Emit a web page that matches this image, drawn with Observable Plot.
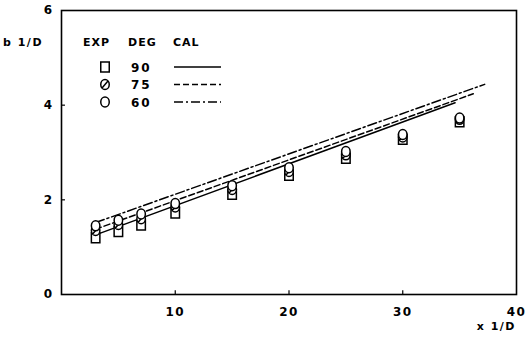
<!DOCTYPE html>
<html>
<head>
<meta charset="utf-8">
<script src="https://cdn.jsdelivr.net/npm/d3@7"></script>
<script src="https://cdn.jsdelivr.net/npm/@observablehq/plot@0.6"></script>
<style>
  html, body { margin: 0; padding: 0; background: #fff; }
  #chart svg { display: block; }
</style>
</head>
<body>
<div id="chart"></div>
<script>
// ---- data ----
const xValues = [3, 5, 7, 10, 15, 20, 25, 30, 35];
const exp90 = [1.20, 1.33, 1.47, 1.72, 2.12, 2.52, 2.88, 3.28, 3.65];
const exp75 = [1.35, 1.48, 1.60, 1.85, 2.22, 2.60, 2.95, 3.33, 3.70];
const exp60 = [1.45, 1.57, 1.70, 1.92, 2.30, 2.68, 3.02, 3.38, 3.73];

const cal90X = [3, 34.6];
const cal90Y = [1.26, 4.05];
const cal75X = [3, 36.2];
const cal75Y = [1.38, 4.24];
const cal60X = [3, 37.2];
const cal60Y = [1.52, 4.44];

const xTicks = [10, 20, 30, 40];
const yTicks = [0, 2, 4, 6];
const degrees = ["90", "75", "60"];
const legendHeader = ["EXP", "DEG", "CAL"];
const xLabel = "x 1/D";
const yLabel = "b 1/D";

// ---- styles ----
const FONT = "DejaVu Sans";
const dashes = { "90": null, "75": "6,3", "60": "9,3,2,3" };

function ellipse(ctx, rx, ry) {
  const k = 0.5523;
  ctx.moveTo(rx, 0);
  ctx.bezierCurveTo(rx, k * ry, k * rx, ry, 0, ry);
  ctx.bezierCurveTo(-k * rx, ry, -rx, k * ry, -rx, 0);
  ctx.bezierCurveTo(-rx, -k * ry, -k * rx, -ry, 0, -ry);
  ctx.bezierCurveTo(k * rx, -ry, rx, -k * ry, rx, 0);
}
const slashedCircle = {
  draw(ctx, size) {
    const r = Math.sqrt(size / Math.PI);
    const rx = r * 0.85, ry = r;
    ellipse(ctx, rx, ry);
    ctx.moveTo(-rx * 0.75, ry * 0.75);
    ctx.lineTo(rx * 0.75, -ry * 0.75);
  }
};
const tallSquare = {
  draw(ctx, size) {
    const r = Math.sqrt(size / Math.PI);
    const w = r * 0.85, h = r;
    ctx.moveTo(-w, -h); ctx.lineTo(w, -h); ctx.lineTo(w, h); ctx.lineTo(-w, h); ctx.closePath();
  }
};
const tallCircle = {
  draw(ctx, size) {
    const r = Math.sqrt(size / Math.PI);
    ellipse(ctx, r * 0.85, r);
  }
};
const symbolFor = { "90": tallSquare, "75": slashedCircle, "60": tallCircle };

// ---- tables ----
const points = [];
[["90", exp90], ["75", exp75], ["60", exp60]].forEach(([deg, ys]) => {
  xValues.forEach((x, i) => points.push({ x, y: ys[i], deg }));
});
const lines = [];
[["90", cal90X, cal90Y], ["75", cal75X, cal75Y], ["60", cal60X, cal60Y]].forEach(([deg, xs, ys]) => {
  xs.forEach((x, i) => lines.push({ x, y: ys[i], deg }));
});

const W = 530, H = 341;
const M = { left: 61, right: 14, top: 10, bottom: 47 };

const lineMarks = degrees.map(deg => Plot.line(lines.filter(d => d.deg === deg), {
  x: "x", y: "y", stroke: "black", strokeWidth: 1.5,
  strokeDasharray: dashes[deg]
}));
const dotMarks = degrees.map(deg => Plot.dot(points.filter(d => d.deg === deg), {
  x: "x", y: "y", r: 5, symbol: () => symbolFor[deg], stroke: "black", strokeWidth: 1.5, fill: "white"
}));

const plot = Plot.plot({
  width: W, height: H,
  marginLeft: M.left, marginRight: M.right, marginTop: M.top, marginBottom: M.bottom,
  style: { fontFamily: FONT, fontSize: "12px", fontWeight: "bold", background: "white", color: "black", letterSpacing: "1.5px" },
  x: { domain: [0, 40], ticks: xTicks, label: null },
  y: { domain: [0, 6], ticks: yTicks, label: null },
  marks: [
    Plot.frame({ stroke: "black", strokeWidth: 1.6 }),
    Plot.ruleY(yTicks.slice(1, -1), { y: d => d, x1: 0, x2: 0.35, stroke: "black", strokeWidth: 1.2 }),
    Plot.ruleX(xTicks.slice(0, -1), { x: d => d, y1: 0, y2: 0.08, stroke: "black", strokeWidth: 1.2 }),
    Plot.axisY(yTicks, { tickSize: 0, tickPadding: 8, fontSize: 12, fontWeight: "bold" }),
    Plot.axisX(xTicks, { tickSize: 0, tickPadding: 13, fontSize: 12, fontWeight: "bold" }),
    ...lineMarks,
    ...dotMarks
  ]
});

// axis titles and legend (static annotations)
const svg = d3.select(plot);
svg.append("text").text(yLabel)
  .attr("x", 3).attr("y", 46).attr("text-anchor", "start").attr("letter-spacing", "1.5px")
  .attr("font-family", FONT).attr("font-size", 11).attr("font-weight", "bold");
svg.append("text").text(xLabel)
  .attr("x", 516).attr("y", 330).attr("text-anchor", "end").attr("letter-spacing", "1.5px")
  .attr("font-family", FONT).attr("font-size", 11).attr("font-weight", "bold");

const lg = svg.append("g").attr("transform", `translate(${M.left},${M.top})`)
  .attr("font-family", FONT).attr("font-size", 11).attr("font-weight", "bold")
  .attr("text-anchor", "start").attr("letter-spacing", "1px");
const colX = [22, 67, 112];
legendHeader.forEach((t, i) => lg.append("text").text(t).attr("x", colX[i]).attr("y", 36).attr("text-anchor", "start"));
const sym = d3.symbol().size(Math.PI * 25);
degrees.forEach((deg, i) => {
  const cy = 57 + i * 17.5;
  lg.append("path").attr("d", sym.type(symbolFor[deg])()).attr("transform", `translate(44,${cy})`)
    .attr("fill", "white").attr("stroke", "black").attr("stroke-width", 1.5);
  lg.append("text").text(deg).attr("x", 70).attr("y", cy + 4.5).attr("text-anchor", "start")
    .attr("font-size", 12).attr("letter-spacing", "2px");
  lg.append("line").attr("x1", 113).attr("x2", 160).attr("y1", cy).attr("y2", cy)
    .attr("stroke", "black").attr("stroke-width", 1.5)
    .attr("stroke-dasharray", dashes[deg]);
});

document.getElementById("chart").appendChild(plot);
</script>
</body>
</html>
